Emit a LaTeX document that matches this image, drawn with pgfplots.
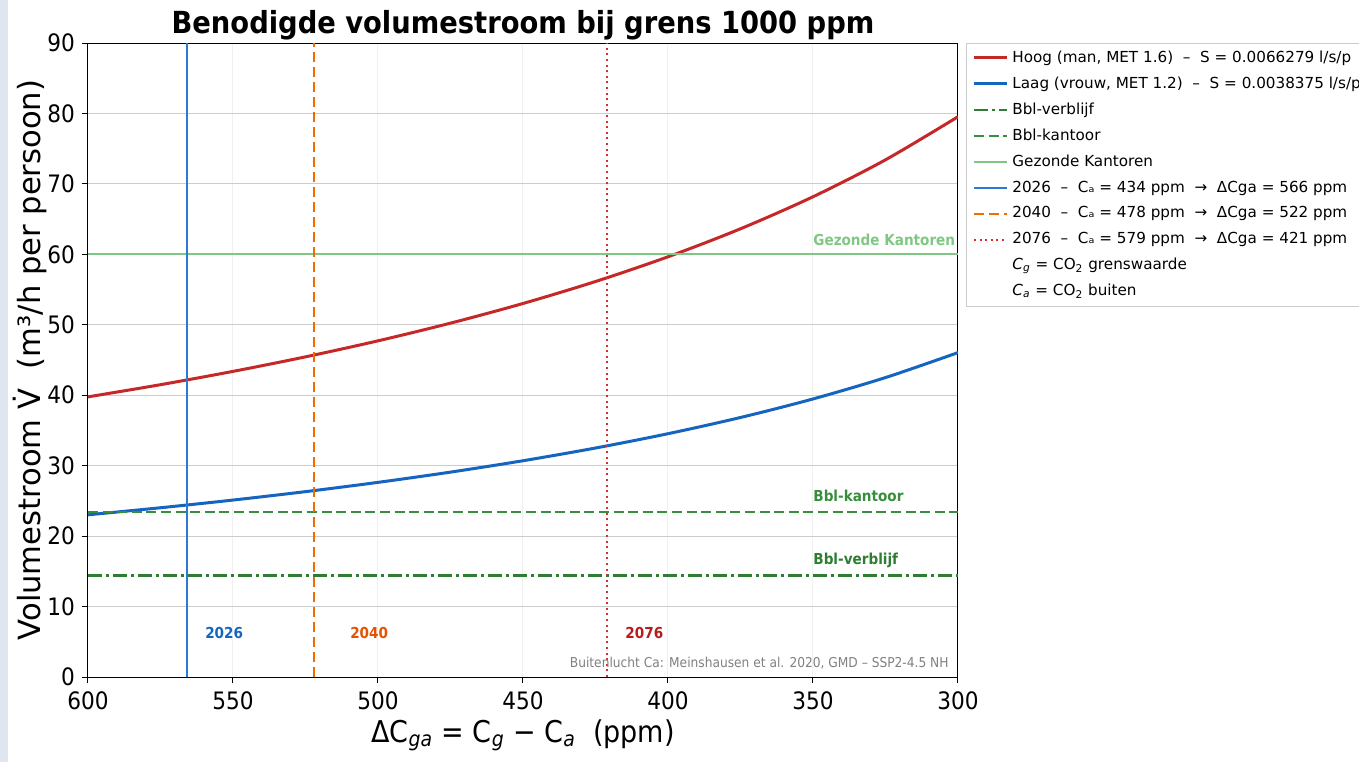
\documentclass[border=0pt]{standalone}
\usepackage{pgfplots}
\pgfplotsset{compat=1.18}
\usepackage{fontspec}
\setmainfont{DejaVu Sans}
\newfontfamily\cond{DejaVu Sans Condensed}[BoldFont={DejaVu Sans Condensed Bold},ItalicFont={DejaVu Sans Condensed Oblique}]
\definecolor{cred}{HTML}{C62828}
\definecolor{cblue}{HTML}{1565C0}
\definecolor{cverb}{HTML}{2E7D32}
\definecolor{ckant}{HTML}{388E3C}
\definecolor{cgez}{HTML}{81C784}
\definecolor{vblue}{HTML}{2A7BD4}
\definecolor{vorange}{HTML}{EF6C00}
\definecolor{vred}{HTML}{D32F2F}
\definecolor{torange}{HTML}{E65100}
\definecolor{tred}{HTML}{B71C1C}
\definecolor{strip}{HTML}{DFE6EF}
\begin{document}
\begin{tikzpicture}
\useasboundingbox (0,0) rectangle (679.5pt,381pt);
\fill[strip] (0,0) rectangle (4pt,381pt);
\begin{axis}[
  name=ax,
  at={(44pt,42.5pt)}, anchor=south west,
  scale only axis, width=435pt, height=317pt,
  x dir=reverse, xmin=300, xmax=600, ymin=0, ymax=90,
  xtick={300,350,...,600}, ytick={0,10,...,90},
  tick align=outside, tick pos=left,
  major tick length=3pt,
  tick style={black, line width=0.5pt},
  axis line style={line width=0.5pt},
  ymajorgrids, xmajorgrids,
  y grid style={gray!40, line width=0.5pt},
  x grid style={gray!12, line width=0.5pt},
  /pgf/number format/assume math mode=true,
  tick label style={font=\cond\fontsize{12}{14}\selectfont},
  xticklabel style={yshift=-1pt},
  xlabel={\cond ΔC\textsubscript{\textit{ga}} = C\textsubscript{\textit{g}} − C\textsubscript{\textit{a}}\ \ (ppm)},
  xlabel style={font=\fontsize{15}{18}\selectfont, at={(axis description cs:0.5,0)}, anchor=center, yshift=-29pt},
  ylabel={Volumestroom \.{V}\ \ (m³/h per persoon)},
  ylabel style={font=\fontsize{15.3}{18}\selectfont, at={(axis description cs:-0.06667,0.5)}, anchor=center},
  legend cell align=left,
  legend image code/.code={\draw[#1] (0pt,0pt) -- (16.5pt,0pt);},
  legend style={at={(1,1)}, anchor=north west, xshift=4pt, yshift=0pt,
    font=\fontsize{7.6}{9}\selectfont, draw=gray!40, fill=white,
    row sep=1.75pt, inner xsep=3pt, inner ysep=1.6pt},
]
\addplot[cred, line width=1.5pt, smooth] coordinates {
(600,39.767)(575,41.496)(550,43.383)(525,45.448)(500,47.721)(475,50.233)(450,53.023)(425,56.142)(400,59.651)(375,63.628)(350,68.173)(325,73.417)(300,79.535)};
\addlegendentry{Hoog (man, MET 1.6)\ \ –\ \ S = 0.0066279 l/s/p}
\addplot[cblue, line width=1.5pt, smooth] coordinates {
(600,23.025)(575,24.026)(550,25.118)(525,26.314)(500,27.630)(475,29.084)(450,30.700)(425,32.506)(400,34.538)(375,36.840)(350,39.471)(325,42.508)(300,46.050)};
\addlegendentry{Laag (vrouw, MET 1.2)\ \ –\ \ S = 0.0038375 l/s/p}
\addplot[cverb, line width=1.1pt, dash pattern=on 7pt off 2pt on 1.5pt off 2pt] coordinates {(600,14.4)(300,14.4)};
\addlegendentry{Bbl-verblijf}
\addplot[ckant, line width=1.1pt, dash pattern=on 5pt off 2.3pt] coordinates {(600,23.4)(300,23.4)};
\addlegendentry{Bbl-kantoor}
\addplot[cgez, line width=1.1pt] coordinates {(600,60)(300,60)};
\addlegendentry{Gezonde Kantoren}
\addplot[vblue, line width=1pt] coordinates {(566,0)(566,90)};
\addlegendentry{2026\ \ –\ \ Cₐ = 434 ppm\ \ →\ \ ΔCga = 566 ppm}
\addplot[vorange, line width=1pt, dash pattern=on 5pt off 2.5pt] coordinates {(522,0)(522,90)};
\addlegendentry{2040\ \ –\ \ Cₐ = 478 ppm\ \ →\ \ ΔCga = 522 ppm}
\addplot[vred, line width=1pt, dash pattern=on 1pt off 1.8pt] coordinates {(421,0)(421,90)};
\addlegendentry{2076\ \ –\ \ Cₐ = 579 ppm\ \ →\ \ ΔCga = 421 ppm}
\addlegendimage{empty legend}
\addlegendentry{\textit{C}\textsubscript{\textit{g}} = CO\textsubscript{2} grenswaarde}
\addlegendimage{empty legend}
\addlegendentry{\textit{C}\textsubscript{\textit{a}} = CO\textsubscript{2} buiten}
\node[anchor=base west, inner sep=0, text=cgez, font=\bfseries\cond\fontsize{7.55}{9}\selectfont] at (axis cs:350,61.3) {Gezonde Kantoren};
\node[anchor=base west, inner sep=0, text=ckant, font=\bfseries\cond\fontsize{7.55}{9}\selectfont] at (axis cs:350,24.9) {Bbl-kantoor};
\node[anchor=base west, inner sep=0, text=cverb, font=\bfseries\cond\fontsize{7.55}{9}\selectfont] at (axis cs:350,15.9) {Bbl-verblijf};
\node[anchor=base west, inner sep=0, text=cblue, font=\bfseries\cond\fontsize{7.55}{9}\selectfont] at (axis cs:559.7,5.4) {2026};
\node[anchor=base west, inner sep=0, text=torange, font=\bfseries\cond\fontsize{7.55}{9}\selectfont] at (axis cs:509.7,5.4) {2040};
\node[anchor=base west, inner sep=0, text=tred, font=\bfseries\cond\fontsize{7.55}{9}\selectfont] at (axis cs:414.8,5.4) {2076};
\node[anchor=base east, inner sep=0, text=gray, font=\cond\fontsize{6.8}{8}\selectfont] at (axis cs:303.1,1.3) {Buitenlucht Ca: Meinshausen et al. 2020, GMD – SSP2-4.5 NH};
\end{axis}
\node[anchor=center, yshift=9pt, font=\cond\bfseries\fontsize{15.2}{18}\selectfont] at (ax.north) {Benodigde volumestroom bij grens 1000 ppm};
\end{tikzpicture}
\end{document}
